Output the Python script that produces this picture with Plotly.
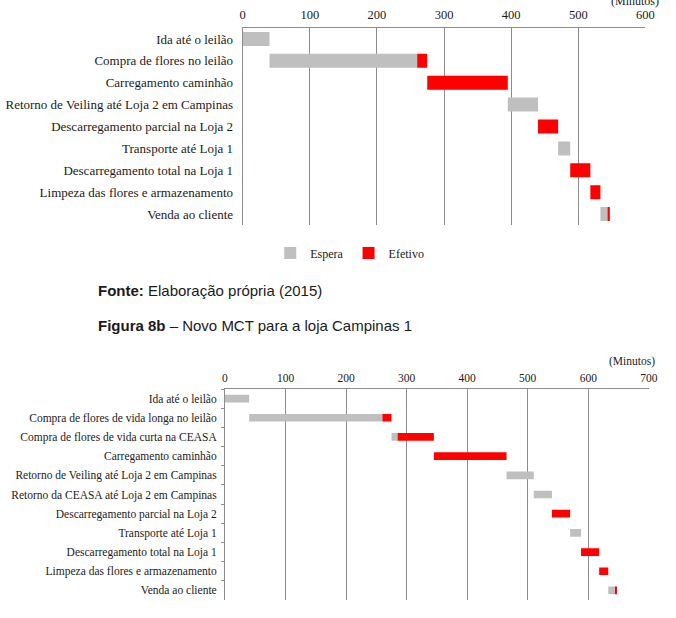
import plotly.graph_objects as go

W, H = 676, 618

# ---- Chart 1 (Figura 8a) ----
cats1 = ["Ida até o leilão", "Compra de flores no leilão", "Carregamento caminhão",
         "Retorno de Veiling até Loja 2 em Campinas", "Descarregamento parcial na Loja 2",
         "Transporte até Loja 1", "Descarregamento total na Loja 1",
         "Limpeza das flores e armazenamento", "Venda ao cliente"]
inicio1 = [0, 40, 275, 395, 440, 470, 488, 518, 533]
espera1 = [40, 220, 0, 45, 0, 18, 0, 0, 12]
efetivo1 = [0, 15, 120, 0, 30, 0, 30, 15, 2]
ticks1 = [0, 100, 200, 300, 400, 500, 600]

# ---- Chart 2 (Figura 8b) ----
cats2 = ["Ida até o leilão", "Compra de flores de vida longa no leilão",
         "Compra de flores de vida curta na CEASA", "Carregamento caminhão",
         "Retorno de Veiling até Loja 2 em Campinas", "Retorno da CEASA até Loja 2 em Campinas",
         "Descarregamento parcial na Loja 2", "Transporte até Loja 1",
         "Descarregamento total na Loja 1", "Limpeza das flores e armazenamento",
         "Venda ao cliente"]
inicio2 = [0, 40, 275, 345, 465, 510, 540, 570, 588, 618, 633]
espera2 = [40, 220, 10, 0, 45, 30, 0, 18, 0, 0, 12]
efetivo2 = [0, 15, 60, 120, 0, 0, 30, 0, 30, 15, 2]
ticks2 = [0, 100, 200, 300, 400, 500, 600, 700]

GRAY = "#bfbfbf"
RED = "#ff0000"
GRID = "#8c8c8c"
SERIF = "Liberation Serif"
SANS = "Liberation Sans"

def px(x): return x / W
def py(y): return 1 - y / H

fig = go.Figure()

base1_red = [s + e for s, e in zip(inicio1, espera1)]
fig.add_trace(go.Bar(y=cats1, x=espera1, base=inicio1, orientation="h", name="Espera",
                     marker=dict(color=GRAY, line=dict(width=0)), width=0.64,
                     xaxis="x", yaxis="y", legendrank=1))
fig.add_trace(go.Bar(y=cats1, x=efetivo1, base=base1_red, orientation="h", name="Efetivo",
                     marker=dict(color=RED, line=dict(width=0)), width=0.64,
                     xaxis="x", yaxis="y", legendrank=2))

base2_red = [s + e for s, e in zip(inicio2, espera2)]
fig.add_trace(go.Bar(y=cats2, x=espera2, base=inicio2, orientation="h", name="Espera",
                     marker=dict(color=GRAY, line=dict(width=0)), width=0.4,
                     xaxis="x2", yaxis="y2", showlegend=False))
fig.add_trace(go.Bar(y=cats2, x=efetivo2, base=base2_red, orientation="h", name="Efetivo",
                     marker=dict(color=RED, line=dict(width=0)), width=0.4,
                     xaxis="x2", yaxis="y2", showlegend=False))

fig.update_layout(
    width=W, height=H, margin=dict(l=0, r=0, t=0, b=0),
    paper_bgcolor="white", plot_bgcolor="white",
    barmode="overlay",
    font=dict(family=SERIF, color="#1a1a1a"),
    xaxis=dict(domain=[px(244), px(654)], range=[0, 600], side="top", anchor="y",
               tickvals=ticks1, showgrid=True, gridcolor=GRID, gridwidth=1,
               showline=True, linecolor=GRID, linewidth=1, zeroline=False,
               ticks="outside", ticklen=3, tickcolor="rgba(0,0,0,0)",
               tickfont=dict(family=SERIF, size=12.5, color="#1a1a1a")),
    yaxis=dict(domain=[py(225), py(28)], anchor="x", autorange="reversed",
               categoryorder="array", categoryarray=cats1,
               showline=True, linecolor=GRID, linewidth=1, showgrid=False,
               ticks="", ticklabelstandoff=6,
               tickfont=dict(family=SERIF, size=13, color="#1a1a1a")),
    xaxis2=dict(domain=[px(226), px(657.5)], range=[0, 700], side="top", anchor="y2",
                tickvals=ticks2, showgrid=True, gridcolor=GRID, gridwidth=1,
                showline=True, linecolor=GRID, linewidth=1, zeroline=False,
                ticks="outside", ticklen=1, tickcolor="rgba(0,0,0,0)",
                tickfont=dict(family=SERIF, size=11.5, color="#1a1a1a")),
    yaxis2=dict(domain=[py(600), py(389)], anchor="x2", autorange="reversed",
                categoryorder="array", categoryarray=cats2,
                showline=True, linecolor=GRID, linewidth=1, showgrid=False,
                ticks="outside", ticklen=3, tickcolor=GRID, tickson="boundaries",
                ticklabelstandoff=5,
                tickfont=dict(family=SERIF, size=11.5, color="#1a1a1a")),
    legend=dict(orientation="h", x=px(353), xanchor="center", y=py(253), yanchor="middle",
                font=dict(family=SERIF, size=12, color="#1a1a1a"),
                itemwidth=30, traceorder="normal", bgcolor="rgba(0,0,0,0)"),
    annotations=[
        dict(text="(Minutos)", xref="paper", yref="paper", x=px(643), y=py(1),
             xanchor="center", yanchor="middle", showarrow=False,
             font=dict(family=SERIF, size=12, color="#1a1a1a")),
        dict(text="(Minutos)", xref="paper", yref="paper", x=px(640), y=py(361),
             xanchor="center", yanchor="middle", showarrow=False,
             font=dict(family=SERIF, size=11.5, color="#1a1a1a")),
        dict(text="<b>Fonte:</b> Elaboração própria (2015)", xref="paper", yref="paper",
             x=px(95), y=py(290), xanchor="left", yanchor="middle", showarrow=False,
             font=dict(family=SANS, size=15, color="#1a1a1a")),
        dict(text="<b>Figura 8b</b> – Novo MCT para a loja Campinas 1", xref="paper", yref="paper",
             x=px(95), y=py(326), xanchor="left", yanchor="middle", showarrow=False,
             font=dict(family=SANS, size=15, color="#1a1a1a")),
    ],
)

fig.write_html("out.html")
